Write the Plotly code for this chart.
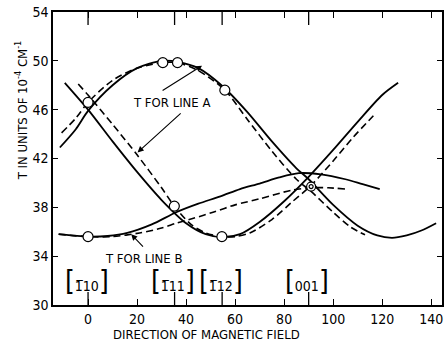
import plotly.graph_objects as go

# ---- data ----
solid_a1_x = [-11.5, -5, 0, 10, 20, 30, 37, 45, 55, 65, 75, 85, 90, 100, 110, 118, 124, 130, 136, 142]
solid_a1_y = [42.9, 44.4, 45.9, 48.0, 49.4, 50.0, 49.9, 49.4, 47.9, 45.8, 43.4, 41.2, 40.3, 38.2, 36.5, 35.7, 35.5, 35.7, 36.1, 36.7]

dash_a1_x = [-10.8, -5, 0, 10, 20, 30.5, 36.5, 45, 55.8, 65, 75, 85, 91, 100, 107, 113]
dash_a1_y = [44.1, 45.3, 46.6, 48.4, 49.4, 49.85, 49.85, 49.2, 47.6, 45.2, 42.6, 40.3, 39.3, 37.6, 36.4, 35.75]

solid_a2_x = [-9.5, 0, 10, 20, 30, 40, 48, 55, 62, 70, 80, 90, 100, 110, 120, 126.5]
solid_a2_y = [48.2, 46.0, 43.4, 40.9, 38.6, 36.7, 35.8, 35.55, 35.8, 36.8, 38.5, 40.5, 42.7, 45.0, 47.2, 48.2]

dash_a2_x = [-4, 0, 10, 20, 30, 35.2, 42, 48, 54.6, 60, 66, 75, 83, 91, 100, 108, 116.4]
dash_a2_y = [48.1, 47.2, 44.8, 42.3, 39.6, 38.1, 36.6, 35.9, 35.6, 35.6, 35.9, 37.0, 38.4, 39.8, 41.8, 43.7, 45.5]

solid_b_x = [-12, 0, 8, 16, 26, 36, 45, 54, 62, 70, 78, 86, 95, 105, 112, 119]
solid_b_y = [35.8, 35.6, 35.65, 35.9, 36.6, 37.6, 38.3, 38.9, 39.5, 39.95, 40.45, 40.8, 40.7, 40.3, 39.9, 39.5]

dash_b_x = [-12, 0, 10, 21, 30, 36, 43, 51, 60, 70, 83, 91, 98, 105]
dash_b_y = [35.8, 35.6, 35.6, 35.9, 36.3, 36.7, 37.1, 37.6, 38.2, 38.7, 39.4, 39.6, 39.6, 39.5]

obs_x = [0, 30.5, 36.5, 55.8, 35.2, 54.6, 0]
obs_y = [46.6, 49.85, 49.85, 47.6, 38.1, 35.6, 35.6]
double_x = [91]
double_y = [39.7]

x_ticks = [0, 20, 40, 60, 80, 100, 120, 140]
y_ticks = [30, 34, 38, 42, 46, 50, 54]
dir_pos = [0, 35.3, 54.7, 90]
dir_labels = ["1\u030510", "1\u030511", "1\u030512", "001"]

FONT = "Liberation Sans Narrow, DejaVu Sans Condensed, Liberation Sans, Arial"

fig = go.Figure()
line_solid = dict(color="black", width=1.8, shape="spline", smoothing=0.8)
line_dash = dict(color="black", width=1.6, dash="7px,4px", shape="spline", smoothing=0.8)
for xs, ys, ln in [
    (solid_a1_x, solid_a1_y, line_solid),
    (solid_a2_x, solid_a2_y, line_solid),
    (dash_a1_x, dash_a1_y, line_dash),
    (dash_a2_x, dash_a2_y, line_dash),
    (solid_b_x, solid_b_y, line_solid),
    (dash_b_x, dash_b_y, line_dash),
]:
    fig.add_trace(go.Scatter(x=xs, y=ys, mode="lines", line=ln, hoverinfo="skip"))

fig.add_trace(go.Scatter(x=obs_x, y=obs_y, mode="markers",
                         marker=dict(symbol="circle", size=10, color="white",
                                     line=dict(color="black", width=1.2))))
fig.add_trace(go.Scatter(x=double_x, y=double_y, mode="markers",
                         marker=dict(symbol="circle", size=9, color="white",
                                     line=dict(color="black", width=1.2))))
fig.add_trace(go.Scatter(x=double_x, y=double_y, mode="markers",
                         marker=dict(symbol="circle", size=4, color="white",
                                     line=dict(color="black", width=1.2))))

ann = []
# curve labels
ann.append(dict(x=33.9, y=46.6, text="T FOR LINE A", showarrow=False,
                font=dict(size=13, family=FONT, color="black")))
ann.append(dict(x=22.6, y=33.85, text="T FOR LINE B", showarrow=False,
                font=dict(size=13, family=FONT, color="black")))
# arrows
for (hx, hy, tx, ty) in [(46.5, 49.6, 29.8, 47.5), (20.2, 42.5, 38.4, 45.8), (17.6, 35.8, 23.0, 34.66)]:
    ann.append(dict(x=hx, y=hy, ax=tx, ay=ty, xref="x", yref="y", axref="x", ayref="y",
                    text="", showarrow=True, arrowhead=2, arrowsize=1.1, arrowwidth=1.1,
                    arrowcolor="black"))
# crystal directions
for p, lab in zip(dir_pos, dir_labels):
    ann.append(dict(x=p - 0.5, y=31.9, xref="x", yref="y", showarrow=False,
                    xanchor="center", yanchor="middle",
                    text="<span style='font-size:28px'>[</span>" + lab +
                         "<span style='font-size:28px'>]</span>",
                    font=dict(size=14, family=FONT, color="black")))
# axis titles
ann.append(dict(x=-0.08, y=0.664, xref="paper", yref="paper", showarrow=False, textangle=-90,
                xanchor="center", yanchor="middle",
                text="T IN UNITS OF 10<sup>-4</sup> CM<sup>-1</sup>",
                font=dict(size=13, family=FONT, color="black")))
ann.append(dict(x=0.395, y=-0.1, xref="paper", yref="paper", showarrow=False,
                xanchor="center", yanchor="middle",
                text="DIRECTION OF MAGNETIC FIELD",
                font=dict(size=13, family=FONT, color="black")))

shapes = []
for p in dir_pos:
    shapes.append(dict(type="line", xref="x", yref="paper", x0=p, x1=p,
                       ysizemode="pixel", yanchor=0, y0=0, y1=13,
                       line=dict(color="black", width=1.3)))
    shapes.append(dict(type="line", xref="x", yref="paper", x0=p, x1=p,
                       ysizemode="pixel", yanchor=1, y0=0, y1=-13,
                       line=dict(color="black", width=1.3)))

fig.update_layout(
    width=448, height=345,
    margin=dict(l=53, r=4, t=10, b=40),
    plot_bgcolor="white", paper_bgcolor="white",
    showlegend=False,
    annotations=ann,
    shapes=shapes,
    font=dict(family=FONT, color="black", size=13),
    xaxis=dict(range=[-14.3, 144.4], tickvals=x_ticks, ticks="inside", ticklen=6,
               tickcolor="black", tickwidth=1.3, showline=True, linecolor="black", linewidth=1.5,
               mirror="ticks", showgrid=False, zeroline=False,
               tickfont=dict(size=14, family=FONT, color="black")),
    yaxis=dict(range=[30, 54], tickvals=y_ticks, ticks="inside", ticklen=5,
               tickcolor="black", tickwidth=1.3, showline=True, linecolor="black", linewidth=1.5,
               mirror="ticks", showgrid=False, zeroline=False,
               tickfont=dict(size=14, family=FONT, color="black")),
)

fig.write_html("out.html")
